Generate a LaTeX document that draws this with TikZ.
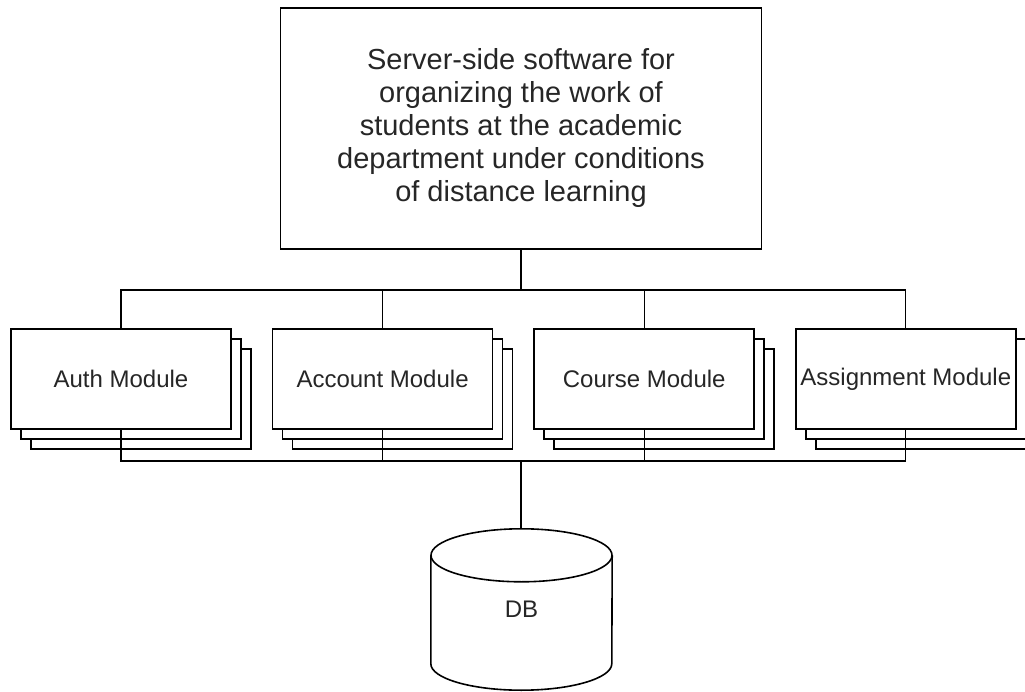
\documentclass[tikz,border=0pt]{standalone}
\usepackage{fontspec}
\setmainfont{Liberation Sans}
\usetikzlibrary{positioning, shadows}

\begin{document}
\begin{tikzpicture}[x=1pt, y=1pt,
    topbox/.style={draw, rectangle, line width=1.6pt, minimum width=481pt, minimum height=241pt, align=center, text=black!85, font=\fontsize{29}{33}\selectfont},
    module/.style={draw, rectangle, fill=white, line width=1.6pt, minimum width=220pt, minimum height=100pt, align=center, text=black!85, font=\fontsize{24}{28}\selectfont,
        copy shadow={shadow xshift=20pt, shadow yshift=-20pt}, copy shadow={shadow xshift=10pt, shadow yshift=-10pt}},
    store/.style={rectangle, minimum width=181pt, minimum height=161pt, text=black!85, font=\fontsize{24}{28}\selectfont},
    rim/.style={line width=1.6pt},
    link/.style={line width=1.3pt}]
    \useasboundingbox (0,0) rectangle (1025,-692);

    % Top level
    \node[topbox] (server) at (521,-128.5) {Server-side software for\\organizing the work of\\students at the academic\\department under conditions\\of distance learning};

    % Modules
    \node[module] (auth) at (121,-379) {Auth Module};
    \node[module, right=40pt of auth] (account) {Account Module};
    \node[module, right=40pt of account] (course) {Course Module};
    \node[module, right=40pt of course] (assignment) {Assignment Module};

    % Database
    \node[store] (db) at (521.5,-609.5) {DB};
    \draw[rim] ([yshift=-26.5pt]db.north) ellipse [x radius=90.5pt, y radius=26.5pt];
    \draw[rim] ([yshift=-26.5pt]db.north west) -- ([yshift=26.5pt]db.south west)
        arc[start angle=180, end angle=360, x radius=90.5pt, y radius=26.5pt]
        -- ([yshift=-26.5pt]db.north east);

    % Buses
    \coordinate (topbus) at (521,-290);
    \coordinate (lowbus) at (521,-461);

    % Connections
    \draw[link] (server.south) -- (topbus) -| (auth.north);
    \draw[link] (topbus) -| (account.north);
    \draw[link] (topbus) -| (course.north);
    \draw[link] (topbus) -| (assignment.north);
    \draw[link] (auth.south) |- (lowbus);
    \draw[link] (account.south) |- (lowbus);
    \draw[link] (course.south) |- (lowbus);
    \draw[link] (assignment.south) |- (lowbus);
    \draw[link] (lowbus) -- (lowbus |- db.north);
\end{tikzpicture}
\end{document}
